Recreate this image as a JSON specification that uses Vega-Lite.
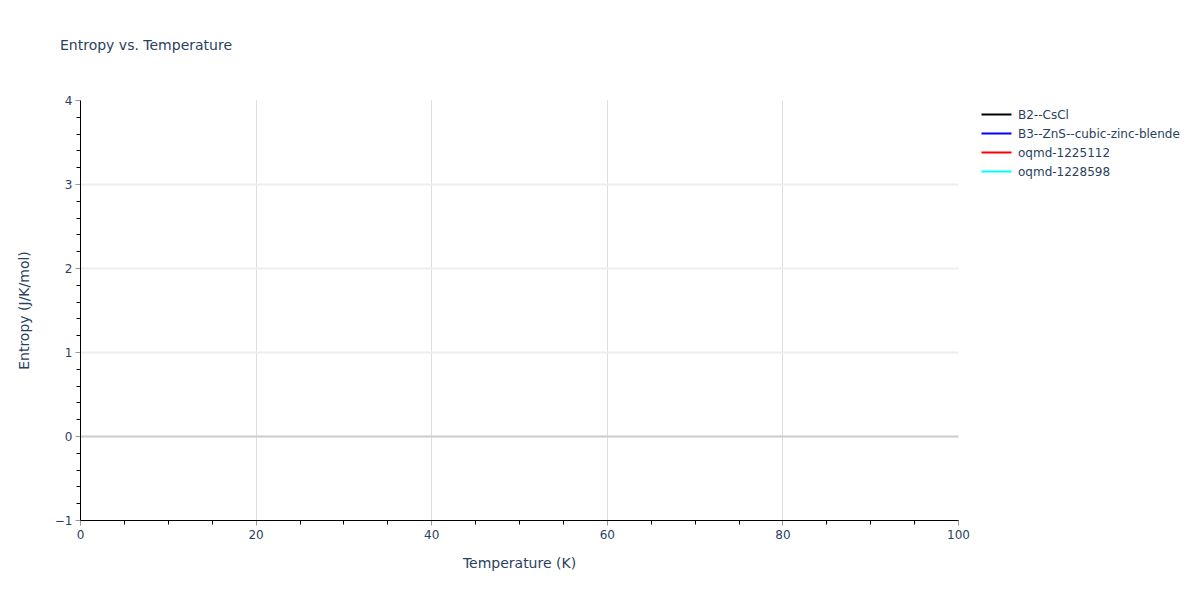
{
  "$schema": "https://vega.github.io/schema/vega-lite/v6.json",
  "width": 878,
  "height": 420,
  "autosize": {"type": "none"},
  "padding": {"left": 80, "top": 100, "right": 242, "bottom": 80},
  "background": "white",
  "title": {
    "text": "Entropy vs. Temperature",
    "anchor": "start",
    "frame": "group",
    "orient": "top",
    "baseline": "alphabetic",
    "offset": 30,
    "dx": -20,
    "font": "DejaVu Sans",
    "fontSize": 14,
    "fontWeight": "normal",
    "color": "#2a3f5f"
  },
  "config": {
    "view": {"stroke": null},
    "axis": {
      "labelFont": "DejaVu Sans",
      "labelFontSize": 12,
      "labelColor": "#2a3f5f",
      "titleFont": "DejaVu Sans",
      "titleFontSize": 14,
      "titleFontWeight": "normal",
      "titleColor": "#2a3f5f"
    },
    "legend": {
      "labelFont": "DejaVu Sans",
      "labelFontSize": 12,
      "labelColor": "#2a3f5f",
      "labelLimit": 300
    }
  },
  "data": {
    "values": [
      {"series": "B2--CsCl", "temperature": 0, "entropy": null},
      {"series": "B3--ZnS--cubic-zinc-blende", "temperature": 0, "entropy": null},
      {"series": "oqmd-1225112", "temperature": 0, "entropy": null},
      {"series": "oqmd-1228598", "temperature": 0, "entropy": null}
    ]
  },
  "resolve": {"axis": {"x": "independent", "y": "independent"}},
  "layer": [
    {
      "mark": {"type": "line", "strokeWidth": 2},
      "encoding": {
        "x": {
          "field": "temperature",
          "type": "quantitative",
          "scale": {"domain": [0, 100], "nice": false, "zero": false},
          "axis": {
            "orient": "bottom",
            "title": "Temperature (K)",
            "values": [0, 20, 40, 60, 80, 100],
            "labelFlush": false,
            "domainColor": "black",
            "domainWidth": 1,
            "tickColor": "#999",
            "tickSize": 5,
            "labelPadding": 4,
            "titlePadding": 16,
            "grid": true,
            "gridWidth": 1,
            "gridColor": {
              "condition": {"test": "datum.value === 0 || datum.value === 100", "value": "rgba(0,0,0,0)"},
              "value": "#dddddd"
            }
          }
        },
        "y": {
          "field": "entropy",
          "type": "quantitative",
          "scale": {"domain": [-1, 4], "nice": false, "zero": false},
          "axis": {
            "orient": "left",
            "title": "Entropy (J/K/mol)",
            "values": [-1, 0, 1, 2, 3, 4],
            "domainColor": "black",
            "domainWidth": 1,
            "tickColor": "#999",
            "tickSize": 5,
            "labelPadding": 3,
            "titlePadding": 23,
            "grid": true,
            "gridWidth": 2,
            "gridColor": {
              "condition": [
                {"test": "datum.value === 0", "value": "#cccccc"},
                {"test": "datum.value === -1 || datum.value === 4", "value": "rgba(0,0,0,0)"}
              ],
              "value": "#eeeeee"
            }
          }
        },
        "color": {
          "field": "series",
          "type": "nominal",
          "scale": {
            "domain": ["B2--CsCl", "B3--ZnS--cubic-zinc-blende", "oqmd-1225112", "oqmd-1228598"],
            "range": ["black", "blue", "red", "cyan"]
          },
          "legend": {
            "title": null,
            "orient": "none",
            "legendX": 908,
            "legendY": 6,
            "symbolType": "M-2,0H2",
            "symbolSize": 225,
            "symbolStrokeWidth": 2,
            "rowPadding": 4,
            "labelOffset": 13
          }
        }
      }
    },
    {
      "mark": {"type": "line"},
      "encoding": {
        "x": {
          "field": "temperature",
          "type": "quantitative",
          "axis": {
            "orient": "bottom",
            "title": null,
            "values": [5, 10, 15, 25, 30, 35, 45, 50, 55, 65, 70, 75, 85, 90, 95],
            "labels": false,
            "domain": false,
            "grid": false,
            "tickColor": "black",
            "tickSize": 4
          }
        },
        "y": {
          "field": "entropy",
          "type": "quantitative",
          "axis": {
            "orient": "left",
            "title": null,
            "values": [-0.8, -0.6, -0.4, -0.2, 0.2, 0.4, 0.6, 0.8, 1.2, 1.4, 1.6, 1.8, 2.2, 2.4, 2.6, 2.8, 3.2, 3.4, 3.6, 3.8],
            "labels": false,
            "domain": false,
            "grid": false,
            "tickColor": "black",
            "tickSize": 4
          }
        }
      }
    }
  ]
}
